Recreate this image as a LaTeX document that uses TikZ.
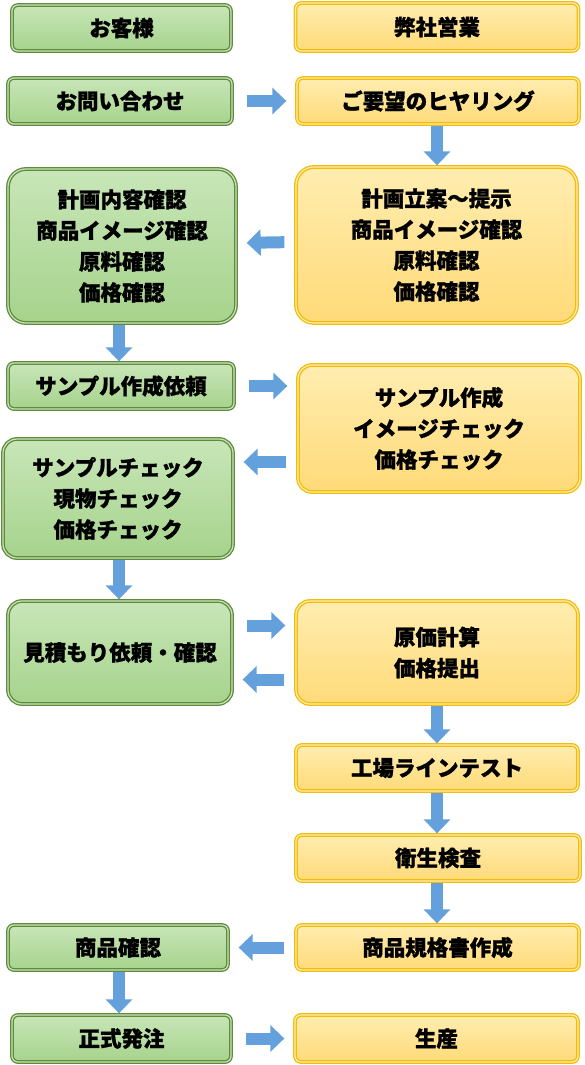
\documentclass[tikz,border=0pt]{standalone}
\usepackage{fontspec}
\setmainfont{Noto Sans CJK JP}[BoldFeatures={FakeBold=1.2}]
\usetikzlibrary{positioning,calc,arrows.meta}

\definecolor{custtop}{RGB}{200,230,184}
\definecolor{custbot}{RGB}{166,211,140}
\definecolor{custline}{RGB}{96,138,62}
\definecolor{firmtop}{RGB}{255,237,176}
\definecolor{firmbot}{RGB}{255,218,120}
\definecolor{firmline}{RGB}{242,188,10}
\definecolor{flowblue}{RGB}{100,160,220}

\newcommand\flowfont{\fontsize{21.5}{31}\selectfont\bfseries}

\tikzset{
  cust/.style={draw=custline,line width=1.3pt,double=custtop,double distance=1.2pt,
    top color=custtop,bottom color=custbot,rounded corners=6pt},
  firm/.style={draw=firmline,line width=1.3pt,double=firmtop,double distance=1.2pt,
    top color=firmtop,bottom color=firmbot,rounded corners=6pt},
  flow/.style={draw=flowblue,line width=12pt,-{Triangle[width=26pt,length=14pt]}},
}

\begin{document}
\begin{tikzpicture}[x=1pt,y=-1pt]
  \useasboundingbox (0,0) rectangle (585,1065);
  \coordinate (lcol) at (119,0);
  \coordinate (rcol) at (437,0);
  \begin{scope}[
    every node/.style={
      align=center,
      anchor=center,
      inner sep=0pt,
      font=\flowfont,
    },
    ]
    % customer side
    \node[cust,minimum width=219pt,minimum height=46pt] (L1) at (121.5,28) {お客様};
    \node[cust,minimum width=224pt,minimum height=46pt] (L2) at (120,101) {お問い合わせ};
    \node[cust,minimum width=228pt,minimum height=154pt,rounded corners=18pt] (L3) at (122,246)
      {計画内容確認\\商品イメージ確認\\原料確認\\価格確認};
    \node[cust,minimum width=226pt,minimum height=46pt] (L4) at (121,386) {サンプル作成依頼};
    \node[cust,minimum width=230pt,minimum height=119pt,rounded corners=14pt] (L5) at (118,498.5)
      {サンプルチェック\\現物チェック\\価格チェック};
    \node[cust,minimum width=224pt,minimum height=103pt,rounded corners=14pt] (L6) at (120,652.5)
      {見積もり依頼・確認};
    \node[cust,minimum width=220pt,minimum height=45pt] (L7) at (118,947.5) {商品確認};
    \node[cust,minimum width=219pt,minimum height=47pt] (L8) at (121.5,1038.5) {正式発注};
    % company side
    \node[firm,minimum width=283pt,minimum height=48pt] (R1) at (437,27) {弊社営業};
    \node[firm,minimum width=282pt,minimum height=46pt] (R2) at (438,101) {ご要望のヒヤリング};
    \node[firm,minimum width=281pt,minimum height=156pt,rounded corners=18pt] (R3) at (436.5,245)
      {計画立案～提示\\商品イメージ確認\\原料確認\\価格確認};
    \node[firm,minimum width=282pt,minimum height=127pt,rounded corners=14pt] (R4) at (439,428.5)
      {サンプル作成\\イメージチェック\\価格チェック};
    \node[firm,minimum width=282pt,minimum height=103pt,rounded corners=14pt] (R5) at (437,652.5)
      {原価計算\\価格提出};
    \node[firm,minimum width=282pt,minimum height=46pt] (R6) at (437,768) {工場ラインテスト};
    \node[firm,minimum width=284pt,minimum height=46pt] (R7) at (438,858) {衛生検査};
    \node[firm,minimum width=283pt,minimum height=45pt] (R8) at (437.5,947.5) {商品規格書作成};
    \node[firm,minimum width=283pt,minimum height=47pt] (R9) at (436.5,1038.5) {生産};
  \end{scope}
  \coordinate (back) at (0,462);
  \begin{scope}[
    every edge/.append style={flow},
    ]
    % across
    \path[shorten <=14pt,shorten >=10pt]
    (L2)                    edge (R2)
    (L4.east)               edge (R4.west |- L4.east)
    ([yshift=27pt]L6.east)  edge ([yshift=27pt]R5.west)
    (L8)                    edge (R9);
    \path[shorten <=11pt,shorten >=10pt]
    ([yshift=3pt]R3.west)   edge ([yshift=3pt]L3.east)
    (R4.west |- back)       edge (L5.east |- back)
    ([yshift=-27pt]R5.west) edge ([yshift=-27pt]L6.east)
    (R8)                    edge (L7);
    % down
    \path[shorten <=1pt,shorten >=1pt]
    (R2.south -| rcol) edge (R3.north -| rcol)
    (R5.south -| rcol) edge (R6.north -| rcol)
    (R6.south -| rcol) edge (R7.north -| rcol)
    (R7.south -| rcol) edge (R8.north -| rcol)
    (L3.south -| lcol) edge (L4.north -| lcol)
    (L5.south -| lcol) edge (L6.north -| lcol)
    (L7.south -| lcol) edge (L8.north -| lcol);
  \end{scope}
\end{tikzpicture}
\end{document}
